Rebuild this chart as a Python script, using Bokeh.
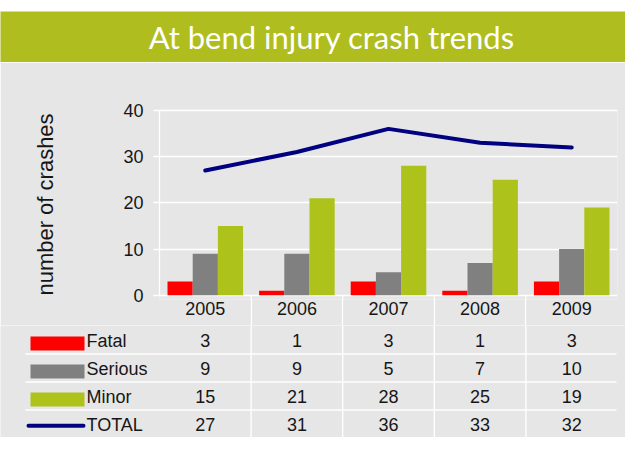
from bokeh.plotting import figure
from bokeh.models import ColumnDataSource, Range1d, FixedTicker, LinearAxis
from bokeh.core.properties import value
from bokeh.embed import file_html
from bokeh.resources import INLINE

# ---------------- data ----------------
years = ["2005", "2006", "2007", "2008", "2009"]
fatal = [3, 1, 3, 1, 3]
serious = [9, 9, 5, 7, 10]
minor = [15, 21, 28, 25, 19]
total = [27, 31, 36, 33, 32]
series_names = ["Fatal", "Serious", "Minor", "TOTAL"]
y_ticks = [0, 10, 20, 30, 40]
title_text = "At bend injury crash trends"
y_label = "number of crashes"

# ---------------- styles ----------------
BG = "#e6e6e6"
BANNER = "#afbd1f"
RED = "#ff0000"
GREY = "#808080"
GREEN = "#adc21a"
NAVY = "#000080"
TXT = "#161616"
FONT = "Liberation Sans"
W = 625

n = len(years)
centers = list(range(n))                       # category slots
bounds_x = [i + 0.5 for i in range(n - 1)]     # separators between slots

# ---------------- banner ----------------
banner = figure(width=W, height=62, x_range=Range1d(0, 1), y_range=Range1d(0, 1),
                toolbar_location=None, output_backend="svg",
                x_axis_location=None, y_axis_location=None,
                min_border_left=0, min_border_right=0,
                min_border_top=11, min_border_bottom=0)
banner.background_fill_color = BANNER
banner.border_fill_color = "white"
banner.outline_line_color = None
banner.grid.visible = False
banner.text(x=[0.53], y=[0.5], text=[title_text], text_color="white",
            text_font=value("Lato"), text_font_size="31px",
            text_align="center", text_baseline="middle")

# ---------------- chart ----------------
bw = 0.275
src = ColumnDataSource(dict(xc=centers,
                            x_f=[c - bw for c in centers],
                            x_s=centers,
                            x_m=[c + bw for c in centers],
                            fatal=fatal, serious=serious, minor=minor, total=total))
p = figure(width=W, height=263, x_range=Range1d(-0.5, n - 0.5),
           y_range=Range1d(-0.91, 40.195),
           toolbar_location=None, output_backend="svg",
           x_axis_location=None,
           min_border_left=159, min_border_right=8,
           min_border_top=47, min_border_bottom=26)
p.background_fill_color = BG
p.border_fill_color = BG
p.outline_line_color = None
p.xgrid.visible = False
p.ygrid.ticker = FixedTicker(ticks=y_ticks)
p.ygrid.grid_line_color = "white"
p.ygrid.grid_line_width = 1.3

p.vbar(x="x_f", top="fatal", width=bw, bottom=0, source=src, color=RED, line_color=None)
p.vbar(x="x_s", top="serious", width=bw, bottom=0, source=src, color=GREY, line_color=None)
p.vbar(x="x_m", top="minor", width=bw, bottom=0, source=src, color=GREEN, line_color=None)
p.line(x="xc", y="total", source=src, line_color=NAVY, line_width=4,
       line_cap="round", line_join="round")

# separators between the 0 line and the frame bottom
p.segment(x0=bounds_x, x1=bounds_x, y0=0, y1=-1, line_color="white", line_width=1.3)

# x axis: year labels, with minor ticks used as table separators
xax = LinearAxis(ticker=FixedTicker(ticks=centers, minor_ticks=bounds_x),
                 major_label_overrides={c: y for c, y in zip(centers, years)})
xax.axis_line_color = None
xax.major_tick_line_color = None
xax.major_tick_out = 0
xax.major_tick_in = 0
xax.minor_tick_line_color = "white"
xax.minor_tick_line_width = 1.3
xax.minor_tick_out = 27
xax.minor_tick_in = 0
xax.major_label_standoff = -25
xax.major_label_text_font = FONT
xax.major_label_text_font_size = "18px"
xax.major_label_text_color = TXT
p.add_layout(xax, "below")

ax = p.yaxis[0]
ax.ticker = FixedTicker(ticks=y_ticks)
ax.bounds = (0, 40)
ax.axis_line_color = "white"
ax.axis_line_width = 1.3
ax.major_tick_line_color = "white"
ax.major_tick_line_width = 1.3
ax.major_tick_out = 6
ax.major_tick_in = 0
ax.minor_tick_line_color = None
ax.major_label_standoff = 10
ax.major_label_text_font = FONT
ax.major_label_text_font_size = "18px"
ax.major_label_text_color = TXT
ax.axis_label = y_label
ax.axis_label_text_font = FONT
ax.axis_label_text_font_size = "22px"
ax.axis_label_text_font_style = "normal"
ax.axis_label_text_color = TXT
ax.axis_label_standoff = 62

# ---------------- table ----------------
cat_w = 458 / n
TH = 112


def ux(px):
    """reference pixel column -> table x units (slot centres at 0..n-1)"""
    return (px - 159) / cat_w - 0.5


t = figure(width=W, height=TH,
           x_range=Range1d(ux(0), ux(W)),
           y_range=Range1d(TH, 0),
           toolbar_location=None, output_backend="svg",
           x_axis_location=None, y_axis_location=None, min_border=0)
t.background_fill_color = BG
t.border_fill_color = BG
t.outline_line_color = None
t.grid.visible = False

row_y = [15, 43, 71, 99]

# vertical separators between years
t.segment(x0=bounds_x, x1=bounds_x, y0=0, y1=TH, line_color="white", line_width=1.3)
# horizontal separators between rows
sep_y = [row_y[k] + 13.5 for k in range(len(row_y) - 1)]
t.segment(x0=ux(25), x1=ux(616), y0=sep_y, y1=sep_y,
          line_color="white", line_width=1.3)

# values
vals = [fatal, serious, minor, total]
xs, ys, txts = [], [], []
for r, arr in enumerate(vals):
    for i, v in enumerate(arr):
        xs.append(centers[i]); ys.append(row_y[r]); txts.append(str(v))
t.text(x=xs, y=ys, text=txts, text_font=value(FONT), text_font_size="18px",
       text_color=TXT, text_align="center", text_baseline="middle")

# legend swatches
sw_x0, sw_x1 = ux(30), ux(84)
t.rect(x=[(sw_x0 + sw_x1) / 2] * 3, y=[ry + 3 for ry in row_y[:3]],
       width=sw_x1 - sw_x0, height=14, color=[RED, GREY, GREEN], line_color=None)
t.line(x=[ux(28), ux(83)], y=[row_y[3] + 1.2] * 2,
       line_color=NAVY, line_width=4, line_cap="round")
t.text(x=[ux(86)] * 4, y=row_y, text=series_names,
       text_font=value(FONT), text_font_size="18px", text_color=TXT,
       text_align="left", text_baseline="middle")

open("out.html", "w").write(file_html([banner, p, t], INLINE))
